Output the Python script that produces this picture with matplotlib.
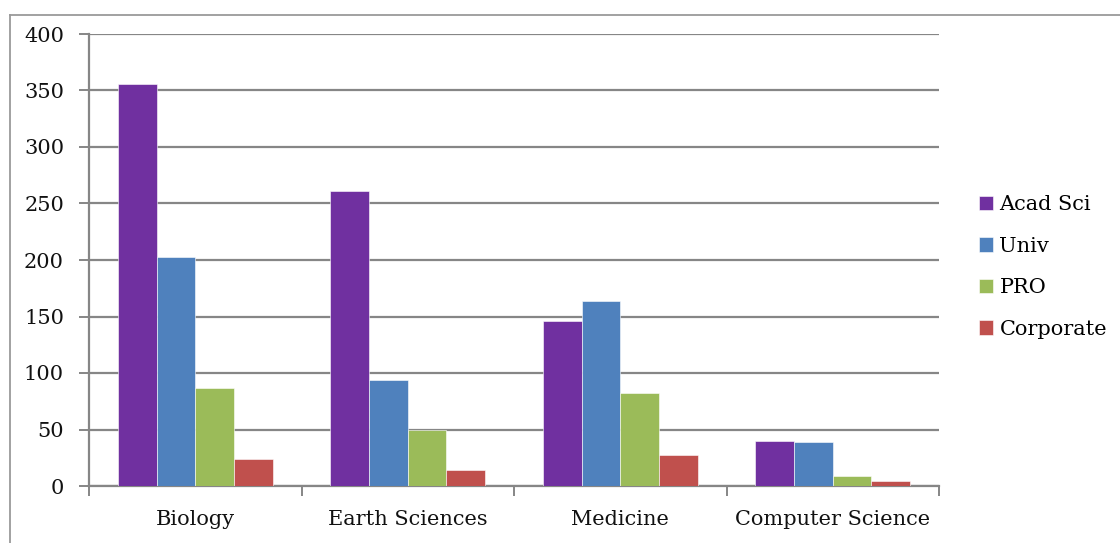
import matplotlib
matplotlib.use("Agg")
import matplotlib.pyplot as plt
from matplotlib.lines import Line2D
import numpy as np

# data
categories = ["Biology", "Earth Sciences", "Medicine", "Computer Science"]
series_names = ["Acad Sci", "Univ", "PRO", "Corporate"]
acad_sci = [356, 261, 146, 40]
univ = [203, 94, 164, 39]
pro = [87, 50, 82, 9]
corporate = [24, 14, 27, 4]
y_ticks = [0, 50, 100, 150, 200, 250, 300, 350, 400]

colors = ["#7030A0", "#4F81BD", "#9BBB59", "#C0504D"]
grid_gray = "#868686"

plt.rcParams["font.family"] = ["DejaVu Serif"]

W, H = 1120, 543
fig = plt.figure(figsize=(W / 100, H / 100), dpi=100)
ax = fig.add_axes([89 / W, 1 - 486 / H, (939 - 89) / W, (486 - 34) / H])

x = np.arange(len(categories))
bar_w = 1 / 5.5
all_series = [acad_sci, univ, pro, corporate]
for i, (vals, name) in enumerate(zip(all_series, series_names)):
    offs = (i - 1.5) * bar_w
    ax.bar(x + offs, vals, width=bar_w, color=colors[i], label=name,
           edgecolor="white", linewidth=0.4, zorder=3)

ax.set_xlim(-0.5, len(categories) - 0.5)
ax.set_ylim(0, 400)
ax.set_yticks(y_ticks)
ax.set_yticklabels([str(t) for t in y_ticks], fontsize=15, color="#111111")
ax.yaxis.grid(True, color=grid_gray, linewidth=1.6, zorder=0)
ax.set_axisbelow(True)

# category labels at centres, tick marks on the boundaries
ax.set_xticks(np.arange(-0.5, len(categories)), minor=False)
ax.set_xticklabels([])
ax.set_xticks(x, minor=True)
ax.set_xticklabels(categories, minor=True, fontsize=15, color="#111111")
ax.tick_params(axis="x", which="minor", length=0, pad=17)
ax.tick_params(axis="x", which="major", length=7, width=1.4, color=grid_gray)
ax.tick_params(axis="y", length=7, width=1.4, color=grid_gray, pad=11)

for side in ["top", "right"]:
    ax.spines[side].set_visible(False)
for side in ["left", "bottom"]:
    ax.spines[side].set_color(grid_gray)
    ax.spines[side].set_linewidth(1.6)

leg = fig.legend(loc="center left", bbox_to_anchor=(979 / W, 1 - 267 / H),
                 frameon=False, fontsize=15, handlelength=0.68, handleheight=0.68,
                 handletextpad=0.3, labelspacing=1.08, borderpad=0,
                 borderaxespad=0)

# outer chart frame (cut by the image edges)
fig.add_artist(Line2D([10 / W, 10 / W], [0, 1 - 15 / H], transform=fig.transFigure,
                      color="#9a9a9a", linewidth=1.3))
fig.add_artist(Line2D([10 / W, 1], [1 - 15 / H, 1 - 15 / H], transform=fig.transFigure,
                      color="#9a9a9a", linewidth=1.3))

fig.savefig("out.png", dpi=100)
